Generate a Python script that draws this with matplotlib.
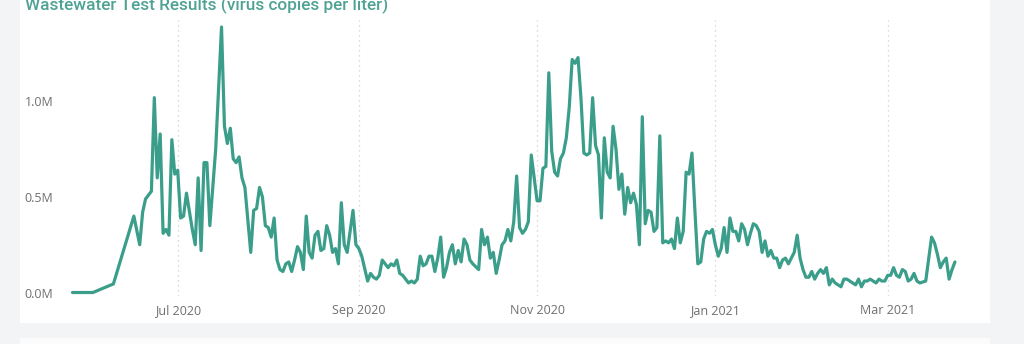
import matplotlib
matplotlib.use("Agg")
import matplotlib.pyplot as plt
import matplotlib.dates as mdates
import matplotlib.ticker as mticker
import pandas as pd


TITLE = "Wastewater Test Results (virus copies per liter)"
BASE_DATE = "2020-07-01"

# sample day, counted from 1 Jul 2020
days = [
    -36, -29, -22, -15, -13, -12, -11, -9, -8, -7, -6, -5, -4, -3, -2, -1,
    0, 1, 2, 3, 5, 6, 7, 8, 9, 10, 11, 13, 15, 16, 17, 18, 19, 20, 21, 22,
    23, 25, 26, 27, 28, 29, 30, 31, 32, 33, 34, 35, 36, 37, 38, 39, 40, 41,
    42, 43, 44, 45, 46, 47, 48, 49, 50, 51, 52, 53, 54, 55, 56, 57, 58, 60,
    61, 62, 63, 65, 66, 67, 68, 69, 70, 71, 72, 73, 74, 75, 76, 77, 78, 79,
    80, 81, 82, 83, 84, 85, 86, 87, 88, 89, 90, 91, 92, 93, 94, 95, 96, 97,
    98, 99, 100, 101, 103, 104, 105, 106, 107, 108, 109, 110, 111, 112, 113,
    114, 115, 116, 117, 118, 119, 120, 121, 122, 123, 124, 125, 126, 127,
    128, 129, 130, 131, 132, 133, 134, 135, 136, 137, 138, 139, 140, 141,
    142, 143, 144, 145, 146, 147, 148, 149, 150, 151, 152, 153, 154, 155,
    156, 157, 158, 159, 160, 161, 162, 163, 164, 165, 166, 167, 168, 169,
    170, 171, 172, 173, 174, 175, 176, 177, 178, 179, 180, 181, 182, 183,
    184, 185, 186, 187, 188, 189, 190, 191, 192, 193, 194, 195, 196, 197,
    198, 199, 200, 201, 202, 203, 204, 205, 206, 207, 208, 209, 210, 211,
    212, 213, 214, 215, 216, 217, 218, 219, 220, 221, 222, 223, 224, 225,
    226, 227, 228, 229, 230, 231, 232, 233, 234, 235, 236, 237, 238, 239,
    240, 241, 242, 243, 244, 245, 246, 247, 248, 249, 250, 251, 252, 253,
    254, 256, 258, 259, 260, 261, 262, 263, 264, 265, 266,
]

# virus copies per liter, in millions
copies_m = [
    0.0, 0.0, 0.045, 0.40, 0.25, 0.42, 0.49, 0.53, 1.02, 0.60, 0.83, 0.31, 0.33, 0.30, 0.80, 0.62,
    0.64, 0.39, 0.40, 0.52, 0.33, 0.25, 0.60, 0.22, 0.68, 0.68, 0.35, 0.75, 1.39, 0.87, 0.78, 0.86, 0.70, 0.68, 0.71, 0.60,
    0.55, 0.21, 0.43, 0.44, 0.55, 0.50, 0.35, 0.34, 0.29, 0.39, 0.17, 0.12, 0.11, 0.15, 0.16, 0.11, 0.17, 0.24,
    0.21, 0.12, 0.40, 0.21, 0.18, 0.30, 0.32, 0.22, 0.23, 0.35, 0.30, 0.21, 0.23, 0.15, 0.47, 0.25, 0.21, 0.43,
    0.25, 0.23, 0.19, 0.06, 0.10, 0.08, 0.07, 0.09, 0.17, 0.15, 0.13, 0.15, 0.14, 0.17, 0.10, 0.09, 0.07, 0.05,
    0.06, 0.05, 0.07, 0.19, 0.14, 0.15, 0.19, 0.19, 0.11, 0.18, 0.29, 0.08, 0.13, 0.21, 0.25, 0.15, 0.22, 0.16,
    0.28, 0.25, 0.17, 0.15, 0.12, 0.33, 0.25, 0.29, 0.18, 0.21, 0.10, 0.17, 0.25, 0.27, 0.33,
    0.27, 0.37, 0.61, 0.34, 0.31, 0.33, 0.37, 0.72, 0.60, 0.48, 0.48, 0.65, 0.66, 1.15,
    0.74, 0.63, 0.61, 0.70, 0.73, 0.81, 0.97, 1.22, 1.20, 1.23, 1.02, 0.73, 0.72, 0.73,
    1.02, 0.77, 0.72, 0.39, 0.81, 0.63, 0.60, 0.87, 0.75, 0.54, 0.62, 0.41, 0.55, 0.47,
    0.52, 0.46, 0.25, 0.92, 0.36, 0.43, 0.42, 0.32, 0.34, 0.82, 0.26, 0.27, 0.26, 0.28,
    0.23, 0.39, 0.26, 0.32, 0.63, 0.62, 0.73, 0.43, 0.15, 0.16, 0.28, 0.32, 0.31, 0.33,
    0.25, 0.19, 0.23, 0.34, 0.21, 0.39, 0.32, 0.32, 0.27, 0.36, 0.33, 0.25, 0.31, 0.36,
    0.35, 0.32, 0.21, 0.27, 0.19, 0.22, 0.18, 0.18, 0.13, 0.17, 0.18, 0.15, 0.18, 0.21,
    0.30, 0.18, 0.12, 0.08, 0.08, 0.11, 0.07, 0.10, 0.12, 0.10, 0.13, 0.04, 0.07, 0.05,
    0.04, 0.03, 0.07, 0.07, 0.06, 0.05, 0.04, 0.07, 0.03, 0.06, 0.06, 0.07, 0.06, 0.05,
    0.07, 0.06, 0.06, 0.09, 0.09, 0.13, 0.09, 0.08, 0.12, 0.11, 0.06, 0.07, 0.10, 0.06,
    0.05, 0.06, 0.29, 0.26, 0.20, 0.13, 0.16, 0.18, 0.07, 0.12, 0.16,
]

month_ticks = ["2020-07-01", "2020-09-01", "2020-11-01", "2021-01-01", "2021-03-01"]
y_ticks = [0.0, 0.5, 1.0]

LINE_COLOR = "#3a9e8b"
TITLE_COLOR = "#4fa394"
LABEL_COLOR = "#6f6f6f"
PAGE_BG = "#f3f4f6"


def main():
    base = pd.Timestamp(BASE_DATE)
    dates = base + pd.to_timedelta(days, unit="D")

    fig = plt.figure(figsize=(10.24, 3.44), dpi=100)
    fig.patch.set_facecolor(PAGE_BG)

    # white visual card, and the top of the next card below it
    card = plt.Rectangle((20 / 1024, 1 - 323 / 344), 970 / 1024, 323 / 344,
                         transform=fig.transFigure, facecolor="white",
                         edgecolor="none", zorder=-5)
    card2 = plt.Rectangle((20 / 1024, 0), 970 / 1024, 6 / 344,
                          transform=fig.transFigure, facecolor="#fbfbfc",
                          edgecolor="none", zorder=-5)
    fig.patches.extend([card, card2])

    left, right, top, bottom = 65, 975, 20, 296
    ax = fig.add_axes([left / 1024, 1 - bottom / 344,
                       (right - left) / 1024, (bottom - top) / 344])
    ax.set_facecolor("none")
    ax.set_zorder(2)

    ax.plot(dates, copies_m, color=LINE_COLOR, linewidth=2.3,
            solid_joinstyle="round", solid_capstyle="round")

    px_per_day = 2.922
    x0 = base + pd.Timedelta(days=(left - 177.7) / px_per_day)
    x1 = base + pd.Timedelta(days=(right - 177.7) / px_per_day)
    ax.set_xlim(x0, x1)
    px_per_m = 191.0
    ax.set_ylim(-(bottom - 292.5) / px_per_m, (292.5 - top) / px_per_m)

    ax.set_xticks(pd.to_datetime(month_ticks))
    ax.xaxis.set_major_formatter(mdates.DateFormatter("%b %Y"))
    ax.set_yticks(y_ticks)
    ax.yaxis.set_major_formatter(mticker.FuncFormatter(lambda v, _: f"{v:.1f}M"))

    ax.tick_params(axis="x", length=0, pad=6, labelsize=9, labelcolor=LABEL_COLOR)
    ax.tick_params(axis="y", length=0, pad=29, labelsize=9, labelcolor=LABEL_COLOR)
    for lab in ax.get_yticklabels():
        lab.set_horizontalalignment("left")
    for lab in ax.get_xticklabels() + ax.get_yticklabels():
        lab.set_fontfamily("Open Sans")

    ax.grid(axis="x", color="#cfcfcf", linestyle=(0, (1, 3)), linewidth=0.9)
    ax.grid(axis="y", visible=False)
    ax.set_axisbelow(True)
    for s in ax.spines.values():
        s.set_visible(False)

    fig.text(25 / 1024, 1 - 10 / 344, TITLE, color=TITLE_COLOR, fontsize=12.4,
             fontfamily="Roboto", fontweight="medium", ha="left", va="baseline")

    fig.savefig("out.png", dpi=100, facecolor=fig.get_facecolor())
    plt.close(fig)


if __name__ == "__main__":
    main()
